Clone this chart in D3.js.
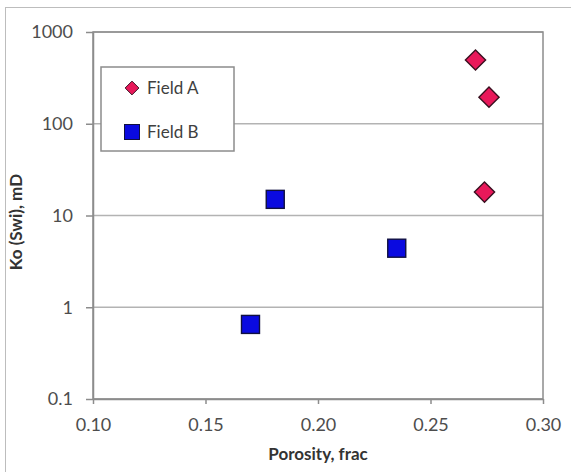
<!DOCTYPE html>
<html lang="en">
  <head>
    <meta charset="UTF-8" />
    <script src="https://d3js.org/d3.v7.min.js"></script>
    <title>Ko vs Porosity</title>
    <style>
      body { margin: 0; background: #fff; }
      svg { display: block; }
    </style>
  </head>
  <body>
    <div id="chart-container"></div>

    <script>
      // data
      const seriesNames = ["Field A", "Field B"];
      const fieldAPorosity = [0.270, 0.276, 0.274];
      const fieldAKo = [495, 195, 18];
      const fieldBPorosity = [0.181, 0.235, 0.170];
      const fieldBKo = [15, 4.4, 0.65];
      const xTicks = [0.10, 0.15, 0.20, 0.25, 0.30];
      const yTicks = [0.1, 1, 10, 100, 1000];

      const W = 571, H = 472;
      const margin = { top: 32, right: 28, bottom: 73, left: 93 };
      const width = W - margin.left - margin.right;
      const height = H - margin.top - margin.bottom;
      const font = "Lato, 'Open Sans', sans-serif";

      const root = d3.select("#chart-container")
        .append("svg")
        .attr("width", W)
        .attr("height", H);

      // outer chart frame
      root.append("rect")
        .attr("x", 5.5).attr("y", 7.5)
        .attr("width", W + 10).attr("height", H + 10)
        .attr("fill", "#fff")
        .attr("stroke", "#bdbdbd");

      const svg = root.append("g")
        .attr("transform", "translate(" + margin.left + "," + margin.top + ")");

      const x = d3.scaleLinear().domain([0.10, 0.30]).range([0, width]);
      const y = d3.scaleLog().domain([0.1, 1000]).range([height, 0]);

      // horizontal gridlines
      svg.append("g")
        .selectAll("line")
        .data(yTicks)
        .join("line")
        .attr("x1", 0).attr("x2", width)
        .attr("y1", d => y(d)).attr("y2", d => y(d))
        .attr("stroke", "#b3b3b3")
        .attr("stroke-width", 1.5);

      // plot area border
      svg.append("rect")
        .attr("width", width).attr("height", height)
        .attr("fill", "none")
        .attr("stroke", "#8c8c8c")
        .attr("stroke-width", 1.5);

      const xAxis = svg.append("g")
        .attr("transform", "translate(0," + height + ")")
        .call(d3.axisBottom(x).tickValues(xTicks).tickFormat(d3.format(".2f"))
          .tickSizeInner(5).tickSizeOuter(0).tickPadding(14));

      const yAxis = svg.append("g")
        .call(d3.axisLeft(y).tickValues(yTicks).tickFormat(d => String(d))
          .tickSizeInner(7).tickSizeOuter(0).tickPadding(13));

      [xAxis, yAxis].forEach(a => {
        a.select(".domain").attr("stroke", "#8c8c8c").attr("stroke-width", 1.5);
        a.selectAll(".tick line").attr("stroke", "#8c8c8c").attr("stroke-width", 1.5);
        a.selectAll(".tick text")
          .style("font-family", font)
          .style("font-size", "18px")
          .attr("fill", "#4d4d4d");
      });

      // axis titles
      svg.append("text")
        .attr("x", x(0.20)).attr("y", height + 61)
        .attr("text-anchor", "middle")
        .style("font-family", font).style("font-size", "17px").style("font-weight", "bold")
        .attr("fill", "#333")
        .text("Porosity, frac");

      svg.append("text")
        .attr("transform", "translate(" + (-71) + "," + (height * 0.518) + ") rotate(-90)")
        .attr("text-anchor", "middle")
        .style("font-family", font).style("font-size", "17px").style("font-weight", "bold")
        .attr("fill", "#333")
        .text("Ko (Swi), mD");

      const fieldA = fieldAPorosity.map((p, i) => ({ p, k: fieldAKo[i] }));
      const fieldB = fieldBPorosity.map((p, i) => ({ p, k: fieldBKo[i] }));

      const diamond = d3.symbol().type(d3.symbolDiamond2).size(260);

      svg.append("g")
        .selectAll("path")
        .data(fieldA)
        .join("path")
        .attr("transform", d => "translate(" + x(d.p) + "," + y(d.k) + ")")
        .attr("d", diamond)
        .attr("fill", "#e8185a")
        .attr("stroke", "#3a1020")
        .attr("stroke-width", 1.4);

      const sq = 18;
      svg.append("g")
        .selectAll("rect")
        .data(fieldB)
        .join("rect")
        .attr("x", d => x(d.p) - sq / 2)
        .attr("y", d => y(d.k) - sq / 2)
        .attr("width", sq).attr("height", sq)
        .attr("fill", "#0a0ae0")
        .attr("stroke", "#101040")
        .attr("stroke-width", 1.4);

      // legend
      const legend = root.append("g").attr("transform", "translate(101,67)");
      legend.append("rect")
        .attr("width", 133).attr("height", 84)
        .attr("fill", "#fff")
        .attr("stroke", "#8c8c8c")
        .attr("stroke-width", 1.5);

      const legendItems = legend.selectAll("g.item")
        .data(seriesNames)
        .join("g")
        .attr("class", "item")
        .attr("transform", (d, i) => "translate(31," + (21 + i * 44) + ")");

      legendItems.filter((d, i) => i === 0)
        .append("path")
        .attr("d", d3.symbol().type(d3.symbolDiamond2).size(120))
        .attr("fill", "#e8185a")
        .attr("stroke", "#3a1020");

      legendItems.filter((d, i) => i === 1)
        .append("rect")
        .attr("x", -7.5).attr("y", -7.5).attr("width", 15).attr("height", 15)
        .attr("fill", "#0a0ae0")
        .attr("stroke", "#101040");

      legendItems.append("text")
        .attr("x", 15).attr("dy", "0.35em")
        .style("font-family", font).style("font-size", "17px")
        .attr("fill", "#404040")
        .text(d => d);
    </script>
  </body>
</html>
